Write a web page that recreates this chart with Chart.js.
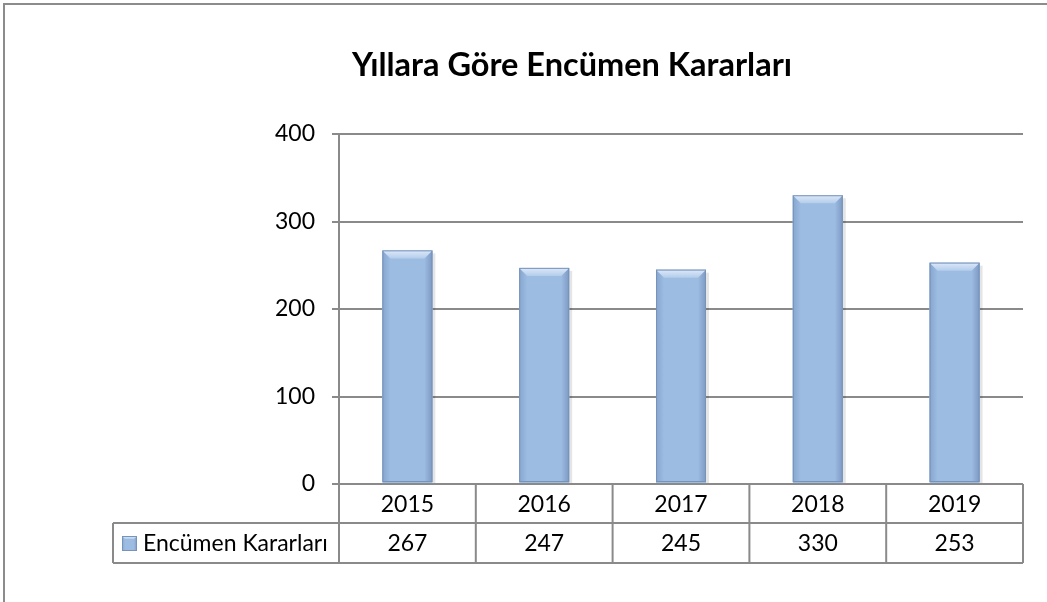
<!DOCTYPE html>
<html>
<head>
<meta charset="utf-8">
<script src="https://cdn.jsdelivr.net/npm/chart.js@4.4.1/dist/chart.umd.min.js"></script>
<style>
  html, body { margin: 0; padding: 0; background: #ffffff; }
  #wrap { width: 1047px; height: 602px; position: relative; }
</style>
</head>
<body>
<div id="wrap"><canvas id="c" width="1047" height="602"></canvas></div>
<script>
const chartTitle = 'Yıllara Göre Encümen Kararları';
const seriesName = 'Encümen Kararları';
const years = ['2015', '2016', '2017', '2018', '2019'];
const decisions = [267, 247, 245, 330, 253];
const yTicks = [0, 100, 200, 300, 400];

const FONT = "Lato, 'Open Sans', 'Liberation Sans', sans-serif";
const LINE = '#8a8a8a';

const framePlugin = {
  id: 'frame',
  beforeDraw(chart) {
    const ctx = chart.ctx;
    ctx.save();
    ctx.fillStyle = '#ffffff';
    ctx.fillRect(0, 0, chart.width, chart.height);
    ctx.strokeStyle = '#8c8c8c';
    ctx.lineWidth = 2;
    ctx.beginPath();
    ctx.moveTo(4, chart.height);
    ctx.lineTo(4, 4);
    ctx.lineTo(chart.width, 4);
    ctx.stroke();
    // title
    ctx.fillStyle = '#000';
    ctx.font = "bold 32.5px " + FONT;
    ctx.textAlign = 'center';
    ctx.textBaseline = 'alphabetic';
    ctx.fillText(chartTitle, 572, 76);
    ctx.restore();
  }
};

function drawBevelBox(ctx, L, T, R, B, b) {
  const w = R - L;
  ctx.fillStyle = '#9dbce2';
  ctx.fillRect(L, T, w, B - T);
  let g = ctx.createLinearGradient(L, 0, L + b, 0);
  g.addColorStop(0, '#87a6cf');
  g.addColorStop(1, '#9dbce2');
  ctx.fillStyle = g;
  ctx.beginPath();
  ctx.moveTo(L, T); ctx.lineTo(L + b, T + b); ctx.lineTo(L + b, B); ctx.lineTo(L, B); ctx.closePath();
  ctx.fill();
  g = ctx.createLinearGradient(R - b, 0, R, 0);
  g.addColorStop(0, '#9dbce2');
  g.addColorStop(1, '#7c99c2');
  ctx.fillStyle = g;
  ctx.beginPath();
  ctx.moveTo(R, T); ctx.lineTo(R - b, T + b); ctx.lineTo(R - b, B); ctx.lineTo(R, B); ctx.closePath();
  ctx.fill();
  g = ctx.createLinearGradient(0, T, 0, T + b);
  g.addColorStop(0, '#dde9f8');
  g.addColorStop(1, '#b4cdec');
  ctx.fillStyle = g;
  ctx.beginPath();
  ctx.moveTo(L, T); ctx.lineTo(R, T); ctx.lineTo(R - b, T + b); ctx.lineTo(L + b, T + b); ctx.closePath();
  ctx.fill();
  ctx.strokeStyle = '#7893ba';
  ctx.lineWidth = 1;
  ctx.strokeRect(L + 0.5, T + 0.5, w - 1, B - T - 1);
}

const bevelPlugin = {
  id: 'bevel',
  afterDatasetsDraw(chart) {
    const ctx = chart.ctx;
    const meta = chart.getDatasetMeta(0);
    ctx.save();
    meta.data.forEach(el => {
      const p = el.getProps(['x', 'y', 'base', 'width'], true);
      const L = p.x - p.width / 2, R = p.x + p.width / 2;
      ctx.fillStyle = 'rgba(0,0,0,0.10)';
      ctx.fillRect(R, p.y + 3, 3, p.base - p.y - 3);
      drawBevelBox(ctx, L, p.y, R, p.base - 1, 8);
    });
    ctx.restore();
  }
};

const tablePlugin = {
  id: 'dataTable',
  afterDraw(chart) {
    const ctx = chart.ctx;
    const xs = chart.scales.x;
    const area = chart.chartArea;
    const n = years.length;
    const top = area.bottom;
    const r1 = top + 39;
    const r2 = r1 + 40;
    const tableLeft = 113;
    const bounds = [area.left];
    for (let i = 1; i < n; i++) {
      bounds.push((xs.getPixelForValue(i - 1) + xs.getPixelForValue(i)) / 2);
    }
    bounds.push(area.right);

    ctx.save();
    ctx.strokeStyle = LINE;
    ctx.lineWidth = 2;
    ctx.beginPath();
    ctx.moveTo(area.left, top); ctx.lineTo(area.right, top);
    ctx.moveTo(tableLeft, r1); ctx.lineTo(area.right, r1);
    ctx.moveTo(tableLeft, r2); ctx.lineTo(area.right, r2);
    ctx.moveTo(tableLeft, r1); ctx.lineTo(tableLeft, r2);
    bounds.forEach(b => { ctx.moveTo(b, top); ctx.lineTo(b, r2); });
    ctx.stroke();

    ctx.fillStyle = '#000';
    ctx.font = "23px " + FONT;
    ctx.textAlign = 'center';
    ctx.textBaseline = 'middle';
    for (let i = 0; i < n; i++) {
      const cx = xs.getPixelForValue(i);
      ctx.fillText(years[i], cx, (top + r1) / 2 + 1);
      ctx.fillText(String(decisions[i]), cx, (r1 + r2) / 2 + 1);
    }
    drawBevelBox(ctx, 122, 536, 137, 551, 3);
    ctx.textAlign = 'left';
    ctx.fillStyle = '#000';
    ctx.fillText(seriesName, 143, (r1 + r2) / 2 + 1);
    ctx.restore();
  }
};

new Chart(document.getElementById('c'), {
  type: 'bar',
  data: {
    labels: years,
    datasets: [{
      label: seriesName,
      data: decisions,
      backgroundColor: '#9dbce2',
      borderWidth: 0,
      categoryPercentage: 1.0,
      barPercentage: 0.365
    }]
  },
  options: {
    responsive: false,
    animation: false,
    devicePixelRatio: 1,
    layout: { padding: { top: 134, right: 24, bottom: 118, left: 0 } },
    plugins: {
      legend: { display: false },
      title: { display: false },
      tooltip: { enabled: false }
    },
    scales: {
      x: {
        display: true,
        ticks: { display: false },
        grid: { display: false },
        border: { display: false },
        afterFit(s) { s.height = 0; }
      },
      y: {
        min: yTicks[0],
        max: yTicks[yTicks.length - 1],
        afterBuildTicks(s) { s.ticks = yTicks.map(v => ({ value: v })); },
        ticks: {
          color: '#000',
          font: { family: FONT, size: 23 },
          padding: 17
        },
        grid: { color: LINE, lineWidth: 2, tickLength: 7 },
        border: { display: true, color: LINE, width: 2 },
        afterFit(s) { s.width = 339; }
      }
    }
  },
  plugins: [framePlugin, bevelPlugin, tablePlugin]
});
</script>
</body>
</html>
